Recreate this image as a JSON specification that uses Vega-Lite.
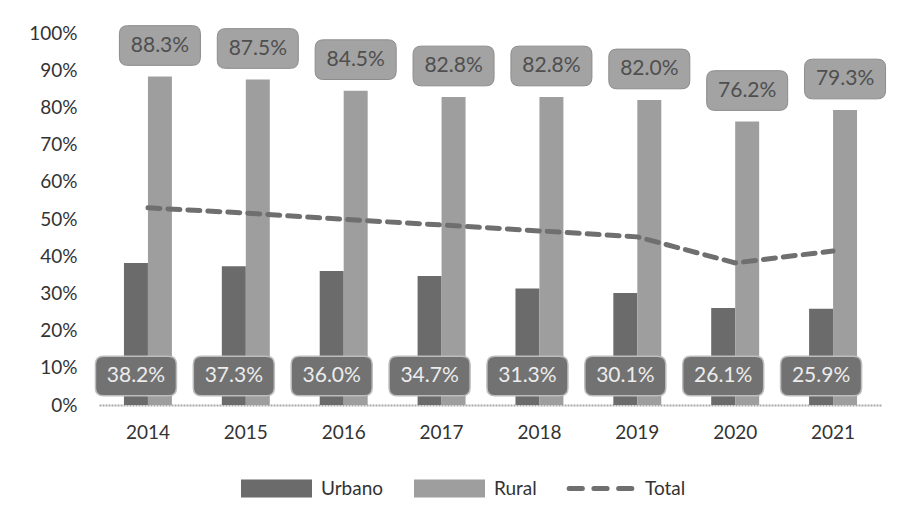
{
  "$schema": "https://vega.github.io/schema/vega-lite/v6.json",
  "width": 783,
  "height": 372,
  "autosize": {"type": "none"},
  "padding": {"left": 99, "top": 33, "right": 21, "bottom": 105},
  "background": "white",
  "config": {"view": {"stroke": null}, "font": "Lato"},
  "data": {
    "values": [
      {"year": "2014", "serie": "Urbano", "value": 0.382},
      {"year": "2015", "serie": "Urbano", "value": 0.373},
      {"year": "2016", "serie": "Urbano", "value": 0.360},
      {"year": "2017", "serie": "Urbano", "value": 0.347},
      {"year": "2018", "serie": "Urbano", "value": 0.313},
      {"year": "2019", "serie": "Urbano", "value": 0.301},
      {"year": "2020", "serie": "Urbano", "value": 0.261},
      {"year": "2021", "serie": "Urbano", "value": 0.259},
      {"year": "2014", "serie": "Rural", "value": 0.883},
      {"year": "2015", "serie": "Rural", "value": 0.875},
      {"year": "2016", "serie": "Rural", "value": 0.845},
      {"year": "2017", "serie": "Rural", "value": 0.828},
      {"year": "2018", "serie": "Rural", "value": 0.828},
      {"year": "2019", "serie": "Rural", "value": 0.820},
      {"year": "2020", "serie": "Rural", "value": 0.762},
      {"year": "2021", "serie": "Rural", "value": 0.793},
      {"year": "2014", "serie": "Total", "value": 0.530},
      {"year": "2015", "serie": "Total", "value": 0.516},
      {"year": "2016", "serie": "Total", "value": 0.499},
      {"year": "2017", "serie": "Total", "value": 0.484},
      {"year": "2018", "serie": "Total", "value": 0.468},
      {"year": "2019", "serie": "Total", "value": 0.452},
      {"year": "2020", "serie": "Total", "value": 0.382},
      {"year": "2021", "serie": "Total", "value": 0.414}
    ]
  },
  "encoding": {
    "x": {
      "field": "year",
      "type": "ordinal",
      "scale": {"paddingInner": 0.51, "paddingOuter": 0.255},
      "axis": {
        "title": null,
        "labelAngle": 0,
        "labelFontSize": 19,
        "labelColor": "#333333",
        "labelPadding": 18,
        "ticks": false,
        "domainColor": "#a8a8a8",
        "domainWidth": 2,
        "domainDash": [2, 1]
      }
    },
    "y": {
      "field": "value",
      "type": "quantitative",
      "scale": {"domain": [0, 1], "nice": false},
      "axis": {
        "title": null,
        "format": ".0%",
        "values": [0, 0.1, 0.2, 0.3, 0.4, 0.5, 0.6, 0.7, 0.8, 0.9, 1],
        "domain": false,
        "ticks": false,
        "grid": false,
        "labelFontSize": 19,
        "labelColor": "#333333",
        "labelPadding": 22
      }
    }
  },
  "layer": [
    {
      "transform": [{"filter": "datum.serie !== 'Total'"}],
      "mark": {"type": "bar"},
      "encoding": {
        "xOffset": {"field": "serie", "sort": ["Urbano", "Rural"], "scale": {"domain": ["Urbano", "Rural"], "paddingInner": 0}},
        "color": {
          "field": "serie",
          "type": "nominal",
          "scale": {"domain": ["Urbano", "Rural", "Total"], "range": ["#6b6b6b", "#9e9e9e", "#6f6f6f"]},
          "legend": {
            "orient": "none",
            "legendX": 142,
            "legendY": 420,
            "direction": "horizontal",
            "gridAlign": "none",
            "title": null,
            "symbolType": "M-1,-0.2L1,-0.2L1,0.2L-1,0.2Z",
            "symbolSize": 4356,
            "labelFontSize": 19,
            "labelColor": "#333333",
            "labelOffset": 9,
            "columnPadding": 22,
            "encode": {
              "symbols": {
                "update": {
                  "shape": {"signal": "datum.value === 'Total' ? 'M-0.95,0L-0.55,0M-0.2,0L0.2,0M0.55,0L0.95,0' : 'M-1,-0.2L1,-0.2L1,0.2L-1,0.2Z'"},
                  "fill": {"signal": "datum.value === 'Total' ? 'transparent' : scale('color', datum.value)"},
                  "stroke": {"signal": "datum.value === 'Total' ? '#6f6f6f' : 'transparent'"},
                  "strokeWidth": {"value": 5},
                  "strokeCap": {"value": "round"},
                  "opacity": {"value": 1}
                }
              }
            }
          }
        }
      }
    },
    {
      "transform": [{"filter": "datum.serie === 'Total'"}],
      "mark": {"type": "line", "strokeDash": [12, 8], "strokeWidth": 5, "strokeCap": "round"},
      "encoding": {
        "color": {"field": "serie", "type": "nominal"}
      }
    },
    {
      "transform": [{"filter": "datum.serie === 'Rural'"}],
      "mark": {
        "type": "point",
        "shape": "M-0.8,-0.49L0.8,-0.49Q1,-0.49 1,-0.29L1,0.29Q1,0.49 0.8,0.49L-0.8,0.49Q-1,0.49 -1,0.29L-1,-0.29Q-1,-0.49 -0.8,-0.49Z",
        "size": 6561,
        "filled": true,
        "fill": "#a3a3a3",
        "stroke": "#8c8c8c",
        "strokeWidth": 1,
        "opacity": 1,
        "yOffset": -31
      },
      "encoding": {
        "xOffset": {"field": "serie", "sort": ["Urbano", "Rural"], "scale": {"domain": ["Urbano", "Rural"], "paddingInner": 0}}
      }
    },
    {
      "transform": [{"filter": "datum.serie === 'Rural'"}],
      "mark": {"type": "text", "fontSize": 21, "color": "#4f4f4f", "baseline": "middle", "align": "center", "yOffset": -31},
      "encoding": {
        "xOffset": {"field": "serie", "sort": ["Urbano", "Rural"], "scale": {"domain": ["Urbano", "Rural"], "paddingInner": 0}},
        "text": {"field": "value", "type": "quantitative", "format": ".1%"}
      }
    },
    {
      "transform": [{"filter": "datum.serie === 'Urbano'"}],
      "mark": {
        "type": "point",
        "shape": "M-0.8,-0.49L0.8,-0.49Q1,-0.49 1,-0.29L1,0.29Q1,0.49 0.8,0.49L-0.8,0.49Q-1,0.49 -1,0.29L-1,-0.29Q-1,-0.49 -0.8,-0.49Z",
        "size": 6561,
        "filled": true,
        "fill": "#727272",
        "stroke": "#bdbdbd",
        "strokeWidth": 1.5,
        "opacity": 1
      },
      "encoding": {
        "xOffset": {"field": "serie", "sort": ["Urbano", "Rural"], "scale": {"domain": ["Urbano", "Rural"], "paddingInner": 0}},
        "y": {"datum": 0.078, "type": "quantitative"}
      }
    },
    {
      "transform": [{"filter": "datum.serie === 'Urbano'"}],
      "mark": {"type": "text", "fontSize": 21, "color": "#ececec", "baseline": "middle", "align": "center"},
      "encoding": {
        "xOffset": {"field": "serie", "sort": ["Urbano", "Rural"], "scale": {"domain": ["Urbano", "Rural"], "paddingInner": 0}},
        "y": {"datum": 0.078, "type": "quantitative"},
        "text": {"field": "value", "type": "quantitative", "format": ".1%"}
      }
    }
  ]
}
